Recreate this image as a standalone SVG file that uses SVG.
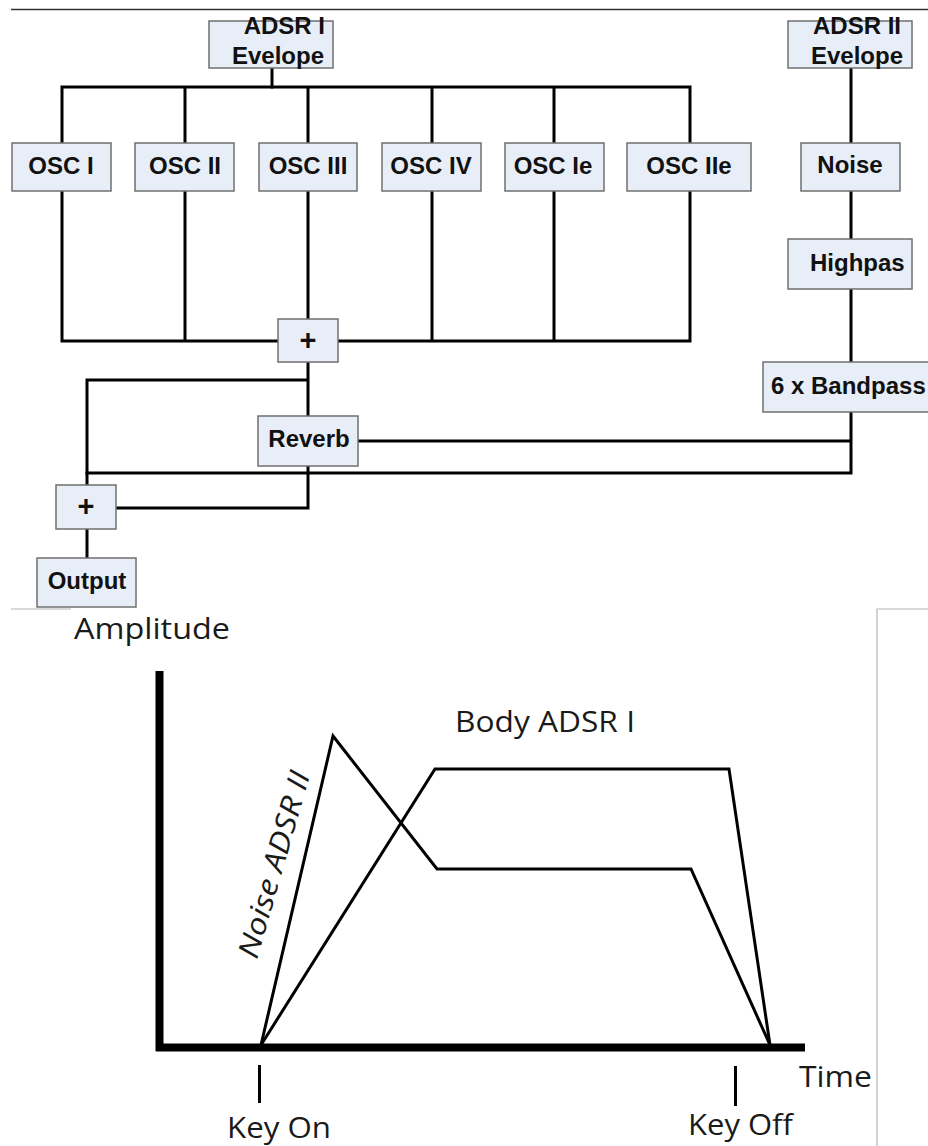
<svg xmlns="http://www.w3.org/2000/svg" width="928" height="1146" viewBox="0 0 928 1146">
<style>
.box{fill:#e8eef7;stroke:#6f6f6f;stroke-width:1.5}
.lbl{font-family:"Liberation Sans",Arial,sans-serif;font-weight:bold;font-size:24px;fill:#111}
.mid{text-anchor:middle}
.end{text-anchor:end}
.plus{font-size:29px}
.wire{fill:none;stroke:#000;stroke-width:3;stroke-linejoin:miter;stroke-linecap:square}
.env{fill:none;stroke:#000;stroke-width:3;stroke-linejoin:miter}
.ax{fill:none;stroke:#000;stroke-width:8}
.ct{font-family:"Open Sans","Noto Sans",sans-serif;font-size:29px;fill:#1a1a1a}
.frame{fill:none;stroke:#b5b5b5;stroke-width:1.2}
</style>
<rect width="928" height="1146" fill="#fff"/>
<line x1="11" y1="9.5" x2="928" y2="9.5" stroke="#333" stroke-width="1.5"/>

<g id="connectors">
<path class="wire" d="M272 68V87" stroke-width="4"/>
<path class="wire" d="M62 87H690M62 87V143M185 87V143M308 87V143M432 87V143M554 87V143M690 87V143"/>
<path class="wire" d="M62 191V341H278M185 191V341M432 191V341M554 191V341M690 191V341H338M308 191V319"/>
<path class="wire" d="M308 362V416M308 380H87V485"/>
<path class="wire" d="M851 68V143M851 191V239M851 289V362M851 412V473H87M851 441H358"/>
<path class="wire" d="M308 466V508H116"/>
<path class="wire" d="M87 529V558"/>
</g>

<g id="adsr1"><rect class="box" x="209" y="21" width="124" height="47"/><text class="lbl end" x="325" y="34">ADSR I</text><text class="lbl end" x="324" y="64">Evelope</text></g>
<g id="adsr2"><rect class="box" x="788" y="21" width="124" height="47"/><text class="lbl end" x="901" y="34">ADSR II</text><text class="lbl end" x="903" y="64">Evelope</text></g>
<g id="osc1"><rect class="box" x="12" y="143" width="99" height="48"/><text class="lbl mid" x="61" y="174">OSC I</text></g>
<g id="osc2"><rect class="box" x="135" y="143" width="99" height="48"/><text class="lbl mid" x="185" y="174">OSC II</text></g>
<g id="osc3"><rect class="box" x="259" y="143" width="98" height="48"/><text class="lbl mid" x="308" y="174">OSC III</text></g>
<g id="osc4"><rect class="box" x="382" y="143" width="99" height="48"/><text class="lbl mid" x="431" y="174">OSC IV</text></g>
<g id="osc1e"><rect class="box" x="505" y="143" width="99" height="48"/><text class="lbl mid" x="553" y="174">OSC Ie</text></g>
<g id="osc2e"><rect class="box" x="627" y="143" width="124" height="48"/><text class="lbl mid" x="689" y="174">OSC IIe</text></g>
<g id="noise"><rect class="box" x="801" y="143" width="99" height="48"/><text class="lbl mid" x="850" y="173">Noise</text></g>
<g id="highpas"><rect class="box" x="788" y="239" width="124" height="50"/><text class="lbl" x="810" y="271">Highpas</text></g>
<g id="bandpass"><rect class="box" x="763" y="362" width="175" height="50"/><text class="lbl" x="771" y="394">6 x Bandpass</text></g>
<g id="sum1"><rect class="box" x="278" y="319" width="60" height="43"/><text class="lbl mid plus" x="308" y="350">+</text></g>
<g id="reverb"><rect class="box" x="258" y="416" width="100" height="50"/><text class="lbl mid" x="309" y="447">Reverb</text></g>
<g id="sum2"><rect class="box" x="56" y="485" width="60" height="44"/><text class="lbl mid plus" x="86" y="516">+</text></g>
<g id="output"><rect class="box" x="37" y="558" width="99" height="49"/><text class="lbl mid" x="87" y="589">Output</text></g>

<g id="chart">
<rect x="71" y="608" width="806" height="538" fill="#fff"/>
<path class="frame" d="M11 609H71M877 1146V609H928"/>
<text class="ct" x="74" y="639" textLength="156" lengthAdjust="spacingAndGlyphs">Amplitude</text>
<line class="ax" x1="159.5" y1="671" x2="159.5" y2="1051"/>
<line class="ax" x1="156" y1="1047.5" x2="805" y2="1047.5"/>
<polyline class="env" points="261,1045 333,736 437,869 691,869 770,1045"/>
<polyline class="env" points="261,1045 435,769 729,769 770,1045"/>
<text class="ct" x="455" y="732" textLength="180" lengthAdjust="spacingAndGlyphs">Body ADSR I</text>
<text class="ct" font-style="italic" font-size="27" transform="translate(257,960) rotate(-74)" textLength="193" lengthAdjust="spacingAndGlyphs">Noise ADSR II</text>
<line x1="259.5" y1="1065" x2="259.5" y2="1103" stroke="#000" stroke-width="3"/>
<line x1="735.5" y1="1066" x2="735.5" y2="1106" stroke="#000" stroke-width="3"/>
<text class="ct" x="799" y="1087" textLength="73" lengthAdjust="spacingAndGlyphs">Time</text>
<text class="ct" x="227" y="1138" textLength="104" lengthAdjust="spacingAndGlyphs">Key On</text>
<text class="ct" x="688" y="1135" textLength="105" lengthAdjust="spacingAndGlyphs">Key Off</text>
</g>
</svg>
